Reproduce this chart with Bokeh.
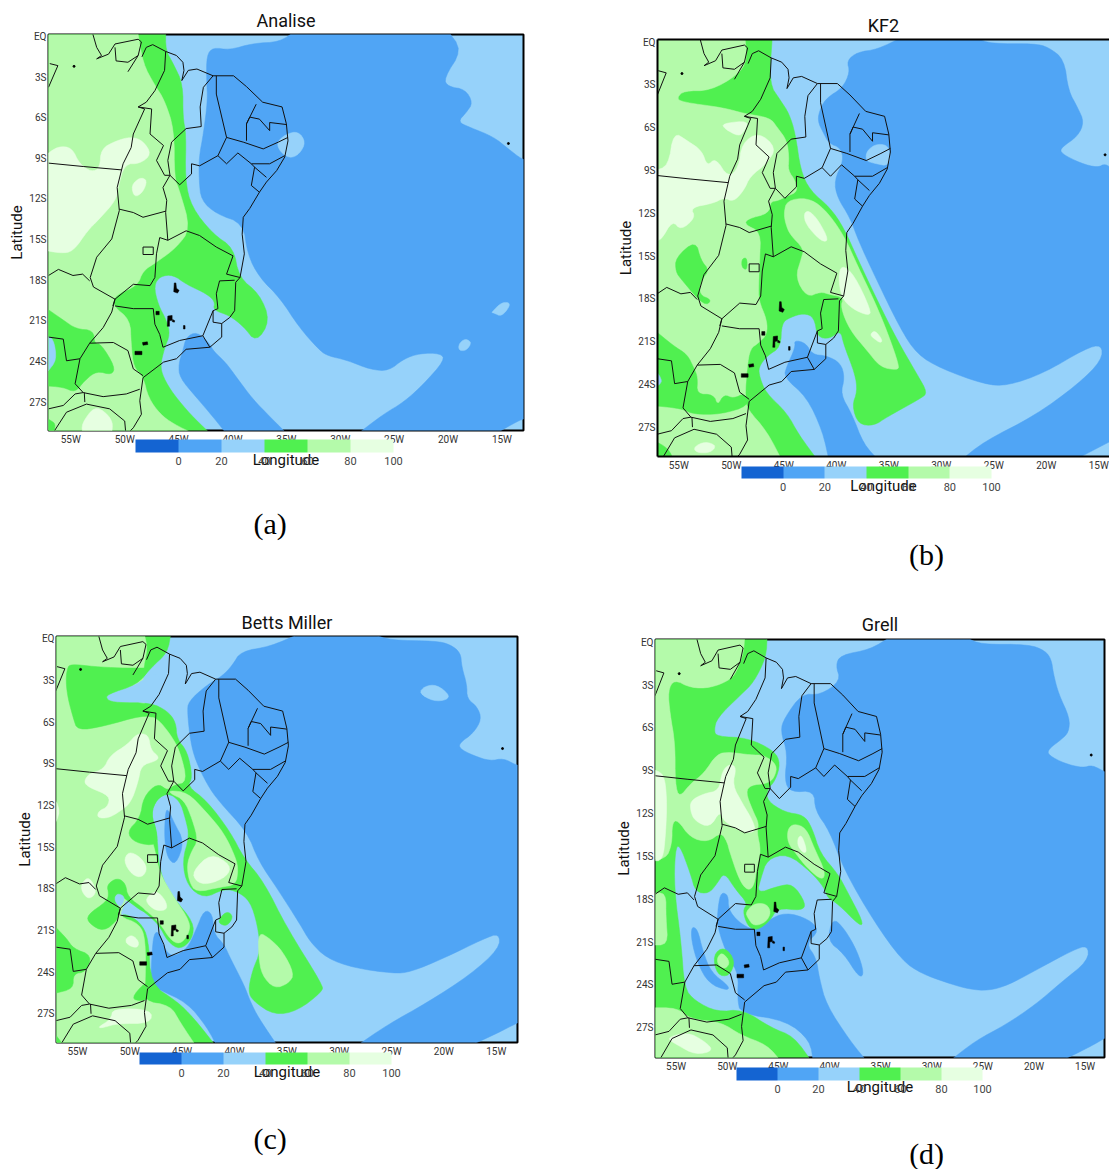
from bokeh.embed import file_html
from bokeh.resources import INLINE
from bokeh.plotting import figure
from bokeh.layouts import column, row
from bokeh.models import (ColumnDataSource, FixedTicker, LinearAxis, ColorBar,
                          LinearColorMapper, Label, Range1d)

# colour classes of relative humidity
LEVELS = [-20, 0, 20, 40, 60, 80, 100]
PALETTE = ["#1464D2", "#50A5F5", "#96D2FA", "#50F050", "#B4FAAA", "#E6FFE1"]
M, L, G, P, W = PALETTE[1], PALETTE[2], PALETTE[3], PALETTE[4], PALETTE[5]

LON_TICKS = [-55, -50, -45, -40, -35, -30, -25, -20, -15]
LON_LABELS = ["55W", "50W", "45W", "40W", "35W", "30W", "25W", "20W", "15W"]
LAT_TICKS = [0, -3, -6, -9, -12, -15, -18, -21, -24, -27]
LAT_LABELS = ["EQ", "3S", "6S", "9S", "12S", "15S", "18S", "21S", "24S", "27S"]

A_LAYERS = [
 (M, [(-34.2,0.4),(-20,0.4),(-18.7,-1),(-20.4,-3.1),(-20,-3.7),(-18.4,-3.9),(-17.7,-4.9),(-18.3,-5.6),(-19.1,-6.3),(-18,-6.7),(-15.8,-7.4),(-14.4,-8.3),(-13.1,-9.1),(-12.5,-9.1),(-12.5,-28.2),(-13.1,-28.25),(-14.2,-28.7),(-15.5,-29.3),(-28.3,-29.3),(-26,-27.9),(-24.1,-27),(-22.3,-25.7),(-20.3,-23.9),(-20.7,-23.4),(-22.6,-23.4),(-24.1,-23.8),(-25.5,-24.7),(-27.2,-24.6),(-29.4,-23.9),(-31.1,-23.6),(-31.9,-23.2),(-33.8,-21.5),(-35.6,-19.3),(-37.5,-17.8),(-38.6,-16.1),(-39,-13.8),(-41.5,-13.1),(-42.9,-12.1),(-43.1,-10.6),(-43.1,-8.9),(-42.7,-7.2),(-42.3,-4.7),(-42.4,-3.3),(-42.4,-1.4),(-41.8,-0.8),(-40.3,-1),(-38.1,-0.5),(-35.6,-0.4)]),
 (M, [(-44.3,-22.2),(-43.3,-21.8),(-42.1,-22.7),(-41.8,-23.2),(-40.6,-24.1),(-39.6,-25.2),(-38.1,-26.8),(-36.5,-28.1),(-35,-29.3),(-40.6,-29.3),(-41.8,-28.1),(-43.3,-26.7),(-44.9,-25.2),(-45,-24.2),(-44.6,-23.2)]),
 (L, [(-35,-7.2),(-33.9,-7),(-33.2,-7.8),(-33.8,-8.7),(-34.7,-9),(-35.6,-8.5),(-35.9,-7.8)]),
 (L, [(-16,-20.4),(-15,-19.6),(-14.1,-19.7),(-15,-20.7),(-15.8,-20.4)]),
 (L, [(-19,-22.7),(-18.4,-22.3),(-17.8,-22.6),(-18.3,-23.2),(-19,-23.2)]),
 (G, [(-46.2,0.4),(-46.2,-1),(-45.5,-2),(-44.6,-3.5),(-44.6,-6),(-44.3,-7.2),(-44.4,-10.6),(-43.8,-12.6),(-41.8,-14.6),(-39.9,-15.6),(-39.4,-17.8),(-37.5,-19),(-36.5,-21),(-37.8,-22.6),(-39,-21.4),(-40.3,-20.6),(-41.8,-20.2),(-41.6,-19.6),(-42.4,-19),(-44.3,-18.3),(-45.5,-17.6),(-46.7,-17.7),(-47.3,-18.4),(-46.9,-19.8),(-46.1,-21),(-45.8,-22),(-46.3,-23),(-46.7,-24.3),(-46.4,-25.2),(-45.5,-26.4),(-43.8,-28),(-42.1,-29.3),(-58,-29.4),(-58,0.4)]),
 (P, [(-48.8,0.4),(-48.3,-2),(-47.2,-3.6),(-46.3,-4.7),(-45.4,-6.9),(-45.4,-10.4),(-44.9,-11.4),(-43.9,-14.2),(-45.2,-15.6),(-47.1,-16.7),(-48.3,-17.3),(-48.8,-18.4),(-50.9,-19.1),(-51.1,-19.9),(-49.5,-20.9),(-49.4,-22.7),(-49.2,-24.4),(-48.3,-25.1),(-47.8,-26.7),(-46.7,-27.9),(-45.5,-28.6),(-43.7,-29.3),(-58,-29.4),(-58,0.4)]),
 (G, [(-57.4,-20),(-55.6,-21),(-54.5,-21.6),(-52.9,-21.7),(-52.8,-22.7),(-52.2,-22.7),(-50.9,-24.4),(-51.2,-25),(-52.6,-24.7),(-53.7,-25.4),(-54.6,-26.3),(-55.7,-25.9),(-57.4,-25.8)]),
 (L, [(-57.4,-22.1),(-56.6,-22.3),(-56.3,-23.9),(-57.1,-24.7),(-57.4,-24.7)]),
 (G, [(-57.4,-28.1),(-57,-28.3),(-56.4,-28.6),(-56.6,-29.3),(-57.4,-29.3)]),
 (W, [(-57.4,-8.8),(-56.2,-8.1),(-54.9,-8.2),(-54.2,-9.4),(-53.1,-10),(-52.3,-9.7),(-52.2,-8.3),(-50.8,-7.7),(-49.4,-7.4),(-48.3,-7.7),(-47.5,-8.7),(-48.6,-9.4),(-50,-9.4),(-50.6,-11.1),(-50.8,-12.1),(-52.5,-13.6),(-53.4,-14.3),(-54.8,-15.9),(-56,-16),(-57.4,-15.8)]),
 (W, [(-49.4,-11),(-48.6,-10.4),(-47.9,-10.6),(-48.3,-11.5),(-49.1,-11.9)]),
 (W, [(-54,-28.6),(-52.8,-27.3),(-51.7,-27.8),(-51.1,-28.5),(-51.2,-29.3),(-53.9,-29.3)]),
]

B_LAYERS = [
 (M, [(-26.5,0.25),(-25.3,-0.1),(-21.1,-0.1),(-19.8,-0.35),(-18.3,-1.2),(-17.9,-3.4),(-17,-4.6),(-16.4,-5.6),(-17,-6.6),(-18.6,-7.4),(-18.6,-7.8),(-16.7,-8.5),(-15.1,-8.8),(-14.4,-8.5),(-13.5,-9),(-12.5,-9),(-12.5,-28),(-13.9,-28),(-17.3,-29.3),(-28.1,-29.3),(-25.9,-28),(-21.1,-26.2),(-17,-24),(-14.7,-22.3),(-14.7,-21.2),(-16.3,-21.5),(-20.2,-23.2),(-23.7,-24.1),(-25.9,-24),(-30,-22.9),(-32.3,-21.9),(-33.9,-20.1),(-36.4,-16.3),(-37.9,-13.9),(-38.7,-12.3),(-39.9,-10.9),(-40.2,-9.7),(-39.3,-8.3),(-39.6,-7.4),(-40.7,-7.1),(-41.2,-6.4),(-41.8,-5.5),(-41.5,-4.6),(-40.9,-3.9),(-39.4,-3.2),(-38.7,-2.1),(-39,-1.3),(-38,-0.7),(-36.1,-0.5),(-34,0.25)]),
 (L, [(-37.1,-7.6),(-36.1,-7.1),(-34.9,-7.3),(-34.9,-8.7),(-36.4,-8.5),(-37.2,-8.3)]),
 (M, [(-43.9,-21.4),(-44,-20.9),(-42.9,-21.1),(-42.3,-21.9),(-40.9,-22),(-39.6,-22.5),(-39.2,-23.5),(-39.6,-24.7),(-38.5,-26.1),(-37.4,-28.2),(-36,-29.3),(-40.7,-29.3),(-41.3,-27.3),(-42.8,-24.9),(-45,-23.5),(-44.7,-22.7)]),
 (G, [(-46.1,0.35),(-46.4,-2.9),(-45.3,-4.1),(-44.5,-5),(-43.9,-6.4),(-43.4,-9),(-42.5,-10.4),(-40.6,-11.6),(-39.3,-13),(-37.9,-15.3),(-36.1,-18.1),(-34.2,-20.9),(-32.3,-23.3),(-31.3,-24.6),(-32,-25),(-35.2,-26.3),(-36.4,-26.9),(-37.9,-26.8),(-38.5,-25.5),(-38,-24.5),(-38.2,-23.3),(-39.3,-21.2),(-39.6,-20.2),(-40.6,-20.8),(-41.8,-20.7),(-42.1,-19.3),(-43.1,-19),(-44.4,-19.3),(-45.2,-19.7),(-45.3,-21.4),(-46.6,-22),(-47.4,-22.8),(-47.3,-23.5),(-46.7,-24.6),(-44.7,-26),(-43.6,-27.5),(-41.8,-29.3),(-58,-29.4),(-58,0.4)]),
 (P, [(-48.7,0.35),(-48.5,-1.3),(-49.4,-2.3),(-52,-3.4),(-54.5,-3.4),(-55.2,-3.9),(-54.7,-4.2),(-50.7,-4.6),(-48.8,-5),(-46.3,-5.3),(-45.6,-6),(-44.7,-6.9),(-44.5,-8.1),(-44.6,-9),(-43.9,-9.7),(-43.7,-10.5),(-44.7,-10.8),(-45.5,-11.1),(-46.3,-11.2),(-46.4,-12),(-48.5,-12.4),(-48.7,-12.8),(-47.2,-13.3),(-47.3,-15.3),(-47.4,-17),(-47.4,-18.1),(-46.6,-19.5),(-46.6,-20.5),(-47.4,-21.1),(-48.2,-21.5),(-48.5,-22.8),(-48.7,-24.9),(-48.5,-25.7),(-46.6,-27.3),(-45.2,-29.3),(-58,-29.4),(-58,0.35)]),
 (G, [(-57.3,-20.2),(-55.5,-21.3),(-54.2,-21.9),(-53.6,-22.8),(-53.2,-23.5),(-53.3,-24.7),(-51.7,-24.7),(-51.3,-25.5),(-50.7,-24.7),(-49.8,-25),(-48.7,-24.6),(-48.3,-25.5),(-51,-26.1),(-53.6,-26.1),(-54.7,-25.7),(-57.3,-25.5)]),
 (L, [(-57.2,-23),(-56.5,-23.8),(-57.2,-24.2)]),
 (G, [(-57.4,-28),(-57.2,-28),(-56,-28.5),(-55.5,-29.3),(-57.4,-29.3)]),
 (G, [(-55.3,-15.1),(-53.4,-13.9),(-52.9,-15.3),(-52.1,-16),(-52.9,-16.7),(-53.1,-17.7),(-51.8,-18.1),(-52.6,-18.5),(-54.7,-16.7),(-55.3,-16.1)]),
 (G, [(-49,-15.2),(-48.5,-15.1),(-48.5,-16),(-49,-15.8)]),
 (P, [(-45,-12),(-44.7,-11.1),(-42.8,-10.9),(-41.2,-11.6),(-39.3,-13.5),(-37.9,-15.8),(-36.4,-18.1),(-35.2,-20.2),(-34,-22.7),(-34.2,-23),(-35.8,-22.8),(-37.1,-21.6),(-38.7,-20.2),(-39.6,-18.6),(-39.3,-17.9),(-40.6,-17.7),(-41.5,-17.5),(-42.8,-17.9),(-43.9,-16.5),(-43.3,-15.1),(-43.1,-14.5),(-44.4,-13.5),(-44.8,-12.8)]),
 (W, [(-57.3,-9),(-56,-8.7),(-55.5,-6.3),(-54.2,-6.9),(-52.8,-7.6),(-52.3,-8.7),(-51.5,-8.1),(-50.3,-9.5),(-49.3,-8.8),(-49,-7.1),(-47.4,-6.3),(-45.7,-7.4),(-46.6,-8.5),(-48.2,-9.4),(-48.8,-10.4),(-49.8,-11.2),(-50.7,-10.9),(-51.7,-11.3),(-53.9,-11.6),(-53.4,-12.3),(-54.8,-13.2),(-55.6,-12.5),(-56.7,-13.9),(-57.3,-13.9)]),
 (W, [(-50.9,-5.7),(-48.3,-5.5),(-48.8,-6.3),(-49.3,-6.6),(-50.6,-6.1)]),
 (W, [(-43.1,-12),(-42.6,-11.8),(-41.7,-12.5),(-40.7,-13.9),(-41.4,-14),(-42.9,-12.8)]),
 (W, [(-39.8,-16.5),(-39.5,-15.6),(-38.3,-16.3),(-36.7,-18.8),(-36.9,-19.2),(-38.5,-18.7),(-39.5,-17.9)]),
 (W, [(-36.8,-20.5),(-36.3,-20.2),(-35.6,-20.9),(-35.8,-21.1),(-36.4,-20.8)]),
 (W, [(-53.6,-28.4),(-52.5,-28),(-51.4,-28.3),(-52,-28.8),(-53.3,-28.8)]),
]

C_LAYERS = [
 (M, [(-26.6,0.3),(-25.1,-0.1),(-20.8,-0.15),(-19.4,-0.4),(-18.4,-1),(-18.3,-2),(-17.8,-3.3),(-17.8,-4.3),(-16.8,-4.9),(-16.4,-5.8),(-17.2,-6.8),(-18.5,-7.5),(-18.5,-7.9),(-17.2,-8.4),(-15.6,-8.8),(-14.3,-8.6),(-13.1,-9.1),(-12.5,-9.1),(-12.5,-27.5),(-13.1,-27.7),(-14.9,-28.4),(-17.5,-29.3),(-28.3,-29.3),(-25.4,-27.8),(-21.6,-26.2),(-17.5,-24.2),(-14.7,-22.3),(-14.7,-21.2),(-16.2,-21.6),(-20,-23),(-23.2,-24),(-24.8,-24.1),(-28.6,-23.7),(-31.2,-23),(-32.8,-21.8),(-33.7,-20.6),(-35.9,-18),(-37.7,-16),(-38.8,-13.9),(-41.5,-11.7),(-42.6,-10.5),(-43.7,-8.8),(-44.2,-7.4),(-44.5,-5.3),(-44.4,-4.5),(-42.6,-3.3),(-41.2,-2.7),(-40.2,-1.9),(-39.4,-0.9),(-36.6,-0.55),(-34,0.3)]),
 (L, [(-22.4,-3.9),(-21.8,-3.4),(-20.7,-3.3),(-19.5,-4),(-19.7,-4.4),(-21,-4.5)]),
 (M, [(-47.7,-21.2),(-47.2,-21.1),(-46.6,-22.5),(-45.8,-22.9),(-44.5,-22.3),(-43.7,-21),(-42.9,-19.5),(-42.1,-19.8),(-42,-21.2),(-41,-22),(-40.4,-23),(-39.1,-24.9),(-38.5,-26.1),(-37.7,-27.3),(-35.9,-29.3),(-41.7,-29.3),(-42.6,-28),(-44.5,-26.2),(-47.4,-25.2),(-48,-24.9),(-47.9,-22.8)]),
 (M, [(-46.6,-12.4),(-46.3,-12.3),(-45.8,-13.2),(-44.8,-14.6),(-45.6,-16.3),(-46.4,-15.8),(-46.7,-14.4)]),
 (G, [(-46.1,0.3),(-46.4,-1),(-48,-2.1),(-49.3,-3.3),(-52.2,-4),(-52.2,-4.4),(-51.2,-4.6),(-48,-4.6),(-46.4,-5.2),(-45.6,-6),(-45.5,-7.2),(-44.5,-8.1),(-44,-10),(-44.5,-10.6),(-42.6,-11.7),(-40.4,-13.9),(-39.1,-15.8),(-37.2,-17.5),(-35,-20.8),(-31.6,-24.9),(-31.6,-25.4),(-34,-26.8),(-36.2,-27.1),(-38.2,-26.1),(-38.7,-25.4),(-38.3,-23.9),(-37.5,-22.5),(-37.8,-20.6),(-38.5,-18.9),(-39.7,-18.2),(-41,-18),(-42.9,-18.7),(-44.5,-17.8),(-45,-16),(-44.3,-14.2),(-44.7,-12.9),(-45.2,-11.7),(-46.3,-11.1),(-47.4,-11.5),(-48,-12.6),(-47.4,-13.9),(-47.2,-16.8),(-45.8,-18.7),(-43.9,-20.4),(-44,-21.6),(-45.2,-22.4),(-46.4,-21.8),(-47.2,-20.6),(-48.7,-19.6),(-50.3,-18.8),(-51.2,-18.3),(-51.5,-18.8),(-50.9,-19.5),(-51,-20),(-50.4,-19.8),(-49,-20.4),(-48.2,-21.6),(-48,-24.9),(-45.5,-26.1),(-43.9,-27.3),(-41.8,-29.3),(-58,-29.4),(-58,0.3)]),
 (P, [(-48.6,0.3),(-48.3,-0.7),(-48.8,-2.4),(-48.6,-5.5),(-47.4,-5.7),(-46.1,-6.9),(-45.2,-8.1),(-44.5,-10.3),(-45.8,-10.5),(-46.4,-10.9),(-47.4,-10.4),(-48.5,-11.7),(-48.5,-13.4),(-47.7,-14.8),(-47.2,-16.8),(-45.8,-18.6),(-44.2,-20.4),(-44.4,-21.3),(-45.2,-22),(-46.1,-21.7),(-47.1,-20.5),(-48.5,-19.5),(-50.3,-18.7),(-50.6,-19.2),(-51,-20),(-49.1,-20.5),(-48.5,-21.6),(-48.5,-24.7),(-48.7,-26.1),(-46.1,-26.4),(-45.2,-27.6),(-43.7,-29.3),(-58,-29.4),(-58,0.3)]),
 (L, [(-47.6,-2.3),(-49.3,-3.3),(-52.2,-4),(-52.2,-4.4),(-51.2,-4.6),(-48,-4.6),(-47,-4.4),(-46.9,-3.2)]),
 (G, [(-56,-2.2),(-55.7,-1.8),(-53.4,-2),(-50.9,-2.1),(-49.1,-2.1),(-48,-2.1),(-49.3,-3.3),(-52.2,-4),(-52.2,-4.4),(-51.2,-4.6),(-48,-4.6),(-47.4,-5.7),(-48.8,-5.5),(-52.5,-6.3),(-55,-6.6),(-55.4,-5.7),(-55.9,-4.3),(-56.1,-3.1)]),
 (G, [(-49,-12.9),(-48.7,-11.4),(-47.4,-10.4),(-46.4,-10.9),(-46.3,-11.1),(-47.4,-11.5),(-48,-12.6),(-47.4,-13.9),(-47.4,-14.9),(-49.5,-14.7),(-50.3,-13.9)]),
 (G, [(-52.2,-17.7),(-51.2,-17.2),(-50.4,-17.6),(-50.2,-18.6),(-48.5,-19.5),(-48.7,-19.7),(-50.3,-18.8),(-51.2,-18.3),(-51.5,-18.8),(-50.9,-19.4),(-51.1,-20.2),(-52.5,-21.1),(-53.9,-20.5),(-54.1,-19.9),(-52.2,-18.9),(-52,-18.4)]),
 (L, [(-51.5,-18.8),(-51.2,-18.3),(-50.4,-18.6),(-50.9,-19.4)]),
 (G, [(-57.3,-20.6),(-56,-21.6),(-55.4,-22.3),(-53.6,-22.8),(-54.2,-24),(-55.4,-24.1),(-55.4,-25.2),(-57,-25.5),(-57.3,-25.5)]),
 (G, [(-49.9,-25.9),(-48.5,-24.7),(-48,-25),(-48.2,-25.9),(-48.9,-26.1)]),
 (G, [(-57.3,-28.3),(-56.3,-29.3),(-57.3,-29.3)]),
 (G, [(-41.4,-20.1),(-40.7,-19.6),(-40.1,-20),(-40.7,-20.7),(-41.5,-20.5)]),
 (P, [(-46.24,-10.92),(-44.49,-11.06),(-42.74,-12.43),(-40.99,-13.99),(-39.87,-15.79),(-39.65,-16.63),(-39.87,-17.71),(-41.3,-17.88),(-43.69,-18.26),(-44.33,-17.47),(-44.55,-16.27),(-44.11,-15.31),(-43.47,-14.52),(-44.01,-13.03),(-44.81,-11.59),(-46.08,-11.16)]),
 (P, [(-37.7,-21.1),(-36.6,-21.6),(-35.4,-22.5),(-34.3,-24.1),(-34.8,-24.8),(-36.2,-25.2),(-37.4,-24.2),(-37.7,-22.8)]),
 (W, [(-52.5,-9.4),(-51.9,-8.4),(-50.2,-7.6),(-49.3,-6.8),(-48.2,-6.9),(-48,-8),(-47.2,-8.5),(-47.5,-8.8),(-48.9,-9.1),(-49.2,-10.3),(-49.9,-11.8),(-50.9,-12.4),(-52,-12.9),(-53.1,-12.9),(-53,-12.4),(-52.1,-12.1),(-51.9,-11.3),(-53.9,-10.7),(-54.4,-10.3),(-53.9,-9.7)]),
 (W, [(-50.6,-16),(-50.1,-15.3),(-49,-15.7),(-48.3,-16.5),(-48.8,-17.2),(-49.8,-17)]),
 (W, [(-48.5,-18.7),(-47.5,-18.1),(-46.6,-18.8),(-46.4,-19.5),(-47.4,-19.6),(-48.2,-19.2)]),
 (W, [(-44.01,-16.75),(-42.26,-15.43),(-40.35,-16.27),(-40.67,-17.11),(-42.58,-17.71),(-43.69,-17.47)]),
 (W, [(-50.4,-21.6),(-49.8,-21.3),(-49.1,-21.8),(-49.3,-22.3),(-50.3,-22)]),
 (W, [(-54.6,-17.6),(-53.9,-17.1),(-53.1,-18.2),(-53.9,-18.8),(-54.6,-18.2)]),
 (W, [(-53.1,-28),(-51.8,-27.4),(-51.6,-26.6),(-47.9,-26.7),(-48,-27.7),(-51.2,-27.7),(-52.5,-28)]),
 (W, [(-57.3,-11.3),(-56.6,-12.4),(-57.3,-13.6)]),
]

D_LAYERS = [
 (M, [(-26.4,0.25),(-25.2,-0.15),(-20.5,-0.15),(-18.9,-0.6),(-18.3,-1.2),(-18.1,-2.2),(-17.6,-3.6),(-16.5,-5.3),(-16.6,-6.3),(-17.3,-6.8),(-18.6,-7.5),(-18.6,-7.9),(-17,-8.5),(-15.2,-8.8),(-14.3,-8.6),(-13,-9.1),(-12.5,-9.1),(-12.5,-27.6),(-13,-27.7),(-14.7,-28.4),(-17.3,-29.3),(-28.2,-29.3),(-25.7,-27.9),(-22.8,-26.8),(-19.9,-25.4),(-17.3,-23.8),(-14.7,-22.3),(-14.7,-21.2),(-16.3,-21.6),(-19.9,-23),(-22.5,-24),(-24.4,-24.4),(-26.4,-24.3),(-28.7,-23.8),(-31,-23.2),(-32.9,-22.3),(-35.7,-19.5),(-38.6,-15.9),(-40,-13.2),(-41.4,-11.8),(-41.5,-10.4),(-43.8,-10.5),(-44.4,-9.7),(-44.1,-7.8),(-44.8,-6.2),(-44.4,-5.3),(-42.7,-3.6),(-40.9,-3.7),(-38.9,-2.7),(-39.4,-1.6),(-38.9,-0.9),(-36,-0.5),(-34.2,0.3)]),
 (M, [(-50.9,-18.5),(-50.6,-17.5),(-49.9,-17.7),(-49.9,-18.7),(-48.9,-19.6),(-47.4,-20.2),(-46.1,-19.5),(-44.3,-18.9),(-42,-19.4),(-41,-20.2),(-42.3,-21.1),(-41.3,-22.1),(-41,-23.5),(-40.3,-25.4),(-38,-27.9),(-36.4,-29.3),(-41.6,-29.3),(-41.9,-27.9),(-44.2,-26.5),(-48.7,-26),(-49,-25),(-48.9,-23.2),(-49.9,-22.1),(-51,-19.9)]),
 (M, [(-53.5,-19.9),(-52.9,-20.1),(-52.4,-21.6),(-51.6,-23.1),(-49.8,-24.1),(-50,-24.4),(-51.8,-23.9),(-52.9,-22.5),(-53.5,-20.9)]),
 (M, [(-39.7,-19.3),(-38.6,-20),(-37.3,-21.6),(-36.6,-23.2),(-37.1,-23.5),(-38.6,-21.8),(-40.2,-20.9)]),
 (G, [(-46.1,0.35),(-46.2,-1.05),(-47.4,-2.8),(-48.7,-3.7),(-51,-5.3),(-51.3,-6.2),(-51,-6.6),(-48,-6.7),(-45.4,-7.6),(-44.8,-8.5),(-45.3,-9.7),(-46.1,-10.3),(-46.1,-11.1),(-44.4,-11.9),(-42.5,-12.1),(-41.7,-13),(-40.9,-14.8),(-39.2,-16.2),(-38.3,-17.4),(-36.7,-19.6),(-37,-19.9),(-39.2,-18.3),(-40.2,-17.9),(-40.5,-17.2),(-41.8,-16.1),(-44.1,-14.8),(-46.1,-15.2),(-46.7,-16.5),(-47.1,-17.6),(-45.1,-17.1),(-43.6,-16.9),(-42.3,-18.3),(-42.7,-18.8),(-45.1,-18.6),(-45.8,-19.5),(-47.1,-20.2),(-48,-19.9),(-48.5,-18.8),(-48,-18.3),(-49.2,-17.3),(-50.3,-16.1),(-51,-16.9),(-51.8,-17.6),(-53.1,-17.5),(-53.6,-16.2),(-54.7,-14.1),(-55.1,-14.6),(-55.2,-17.2),(-54.5,-21.1),(-54.2,-24.2),(-53.2,-25.1),(-51,-25.9),(-48.5,-25.7),(-45.7,-27),(-43.5,-27.6),(-41.8,-29.3),(-58,-29.4),(-58,0.35)]),
 (P, [(-48.3,0.35),(-48.4,-0.7),(-49,-1.9),(-49.6,-2.6),(-51.6,-3.2),(-53.6,-3.2),(-55.2,-2.6),(-55.8,-3.4),(-55.6,-5),(-55.1,-7.1),(-55.1,-9.9),(-54.7,-10.9),(-53.6,-9.9),(-52.3,-9.2),(-51,-7.8),(-49.7,-7.7),(-47.7,-7.9),(-46.4,-7.9),(-45.1,-8.6),(-45.4,-9.5),(-46.1,-9.9),(-47.7,-10),(-48.2,-10.5),(-47.5,-11.8),(-46.9,-12.7),(-47.1,-13.3),(-46.7,-14.6),(-47.1,-15.8),(-47.4,-17.1),(-48,-17.4),(-48.8,-16.7),(-49.8,-14.6),(-50,-14),(-50.6,-13.3),(-51.9,-14),(-53.6,-13.7),(-54.9,-12.4),(-55.4,-12.7),(-55.4,-14.1),(-56,-15.2),(-58,-15.2),(-58,0.35)]),
 (P, [(-44.1,-13.1),(-43.5,-12.7),(-42.3,-13),(-41.5,-14.4),(-40.4,-16.1),(-40.7,-16.7),(-42.2,-15.8),(-43.3,-14.8),(-44.1,-14)]),
 (P, [(-57.4,-17.6),(-56,-17.5),(-56,-19.3),(-55.8,-21.2),(-57.4,-21.2)]),
 (P, [(-48.2,-18.9),(-47.4,-18.3),(-46.2,-18.3),(-45.7,-18.9),(-46.2,-19.6),(-47.4,-19.9),(-48,-19.3)]),
 (G, [(-51.4,-21.9),(-50.3,-21.3),(-49.2,-22.3),(-49.8,-23.4),(-51,-23.3)]),
 (P, [(-51,-22.1),(-50.5,-21.7),(-49.7,-22.4),(-50.2,-22.9),(-50.9,-22.6)]),
 (P, [(-57.4,-25.6),(-54.9,-25.6),(-53.6,-26.4),(-50.6,-26.6),(-48.7,-27.5),(-46.1,-28.2),(-44.8,-29.3),(-57.4,-29.3)]),
 (W, [(-57.3,-8.9),(-56.2,-9.2),(-55.9,-10.9),(-56,-13.2),(-56.3,-15.3),(-57.3,-15.3)]),
 (W, [(-53.6,-11.1),(-52.3,-10.6),(-50.8,-10.4),(-50.5,-9),(-49.7,-8.5),(-49.1,-8.8),(-49.5,-10),(-48.5,-11.3),(-47.5,-12.5),(-47.2,-13.3),(-48.4,-13.3),(-50.3,-12.6),(-50.7,-11.8),(-51.7,-13),(-53.2,-12.5),(-53.6,-11.8)]),
 (W, [(-43.1,-13.7),(-42.7,-13.5),(-42.2,-14.6),(-42.5,-14.8),(-43.1,-14.3)]),
 (W, [(-56,-27.7),(-53.9,-27.3),(-52.3,-27.9),(-51.3,-28.6),(-53.1,-28.9),(-54.9,-28.2)]),
]

COAST = [(-48.4,-1.5),(-48,-0.8),(-47.4,-0.6),(-46.2,-1.1),(-45.2,-1.4),(-44.6,-1.9),(-44.5,-2.5),(-44.7,-3.25),(-44.1,-2.5),(-43.3,-2.4),(-41.8,-2.9),(-39.9,-2.9),(-38.7,-3.7),(-37.2,-4.85),(-35.4,-5.2),(-35,-6.45),(-34.85,-7.7),(-35.15,-8.9),(-35.9,-9.9),(-36.85,-10.75),(-37.5,-11.5),(-38.4,-12.7),(-39,-13.35),(-39.1,-14.6),(-38.9,-16.05),(-39.3,-17.8),(-39.7,-18.15),(-39.8,-20.25),(-40.25,-20.75),(-41,-21.2),(-41,-22.2),(-42.1,-22.95),(-44.3,-23.1),(-45.2,-23.8),(-46.4,-24.05),(-48.3,-25.2),(-48.6,-26.9),(-48.45,-27.9),(-49.2,-28.9),(-49.7,-29.3)]
BORDERS = [
 COAST,
 [(-53,0.3),(-52.6,-0.8),(-52.15,-1.4),(-52.6,-1.65),(-51.5,-1.3),(-50.9,-0.55),(-48.75,-0.2),(-48.45,-0.4),(-48.75,-1.4),(-49.7,-2.6)],
 [(-50.9,-0.8),(-50.8,-1.8),(-49.7,-1.9),(-48.75,-1.4)],
 [(-57.07,-3.75),(-56.2,-2.15),(-56.95,-2)],
 [(-46.2,-1.1),(-46.3,-2.5),(-47.2,-4),(-48,-4.85),(-48.75,-5.2),(-48.15,-5.35),(-49.2,-7.2),(-49.4,-8.2),(-50.15,-9.4),(-50.7,-11.15),(-50.5,-12.85),(-51.2,-14.95),(-52.6,-16.3),(-53.2,-17.8),(-52.9,-18.5),(-50.9,-19.4)],
 [(-57.07,-9.35),(-53.85,-9.6),(-50.3,-9.85)],
 [(-48.75,-5.2),(-47.5,-5.35),(-47.65,-7.2),(-46.4,-8.05),(-47.05,-9.15),(-46.3,-10.25),(-45.8,-10.25)],
 [(-41.8,-2.9),(-42.7,-3.75),(-43,-5.2),(-42.9,-6.65),(-44.3,-6.8),(-45.65,-7.8),(-46,-9.15),(-45.8,-10.25),(-44.9,-10.95),(-43.8,-10.15),(-43.8,-9.4),(-43.05,-9.55),(-41.35,-8.8),(-40.55,-7.45),(-41.5,-4.25),(-41.5,-2.9)],
 [(-41.35,-8.8),(-40.55,-9.4),(-39.5,-8.6),(-38.25,-9.4),(-36.55,-9.4),(-35.15,-8.8)],
 [(-40.55,-7.45),(-39,-7.8),(-37.15,-8.3),(-35.75,-7.8),(-34.85,-7.45)],
 [(-38.7,-7.7),(-38.7,-6.45),(-37.8,-5)],
 [(-38.7,-6.45),(-38.4,-5.95),(-37.5,-6.1),(-36.55,-6.95),(-36.55,-6.35),(-35,-6.5)],
 [(-38.25,-9.4),(-37.95,-9.65),(-38.25,-11),(-37.5,-11.5)],
 [(-37.95,-9.65),(-36.85,-10.4)],
 [(-45.8,-10.25),(-46.45,-11.15),(-46.1,-12.1),(-46.2,-13),(-46,-15.05),(-44.3,-14.35),(-43.05,-14.7),(-41.5,-15.55),(-39.95,-16.2),(-40.55,-17.55),(-39.3,-17.8)],
 [(-50.5,-12.75),(-49.2,-13),(-48.3,-13.35),(-46.2,-12.9)],
 [(-46,-15.05),(-46.75,-14.85),(-47.05,-16.05),(-47.2,-17.8),(-47.65,-18.4),(-49.2,-18.3),(-50.9,-19.4),(-51.1,-19.9)],
 [(-48.3,-15.55),(-47.35,-15.55),(-47.35,-16.1),(-48.3,-16.1),(-48.3,-15.55)],
 [(-57.07,-17.65),(-56.15,-17.2),(-54.8,-17.65),(-53.9,-17.55),(-53.25,-18.05)],
 [(-50.9,-19.4),(-51.2,-20.35),(-52,-21.5),(-53.25,-22.65),(-54.15,-23.8),(-54.6,-25.65),(-53.85,-26.3)],
 [(-57.07,-22.2),(-55.7,-22.35),(-55.4,-23.95),(-54.15,-23.8)],
 [(-50.9,-19.9),(-49.2,-20.1),(-47.35,-20.1),(-47.2,-21.25),(-46.75,-22),(-46.45,-22.95),(-44.9,-22.45),(-42.75,-22.1),(-41.8,-20.25),(-41.35,-20.1),(-41.5,-19),(-41.2,-18.05),(-39.8,-18)],
 [(-41.8,-20.25),(-41.8,-21.1),(-41,-21.2)],
 [(-42.75,-22.1),(-42.1,-22.95)],
 [(-53.25,-22.65),(-51.05,-22.6),(-49.7,-23.2),(-49.2,-24.55),(-48.3,-25.05)],
 [(-53.85,-26.3),(-52,-26.6),(-49.85,-26.4),(-48.6,-26.05)],
 [(-53.75,-26.3),(-53.7,-27)],
 [(-56.5,-29.1),(-55.4,-27.75),(-53.55,-27.15),(-51.4,-27.5),(-50,-28.4),(-49.9,-29.3)],
 [(-57.07,-27.5),(-55.7,-27.25),(-54.6,-26.4),(-53.85,-26.3)],
]
LAKES = [
 [(-45.4,-18.2),(-45.25,-18.2),(-45.2,-18.6),(-44.95,-18.75),(-45.1,-18.95),(-45.45,-18.85)],
 [(-46.0,-20.65),(-45.6,-20.6),(-45.6,-20.95),(-45.85,-21.0),(-45.85,-21.4),(-46.05,-21.4)],
 [(-45.55,-20.9),(-45.35,-21.0),(-45.4,-21.1),(-45.6,-21.05)],
 [(-48.35,-22.6),(-47.9,-22.55),(-47.85,-22.75),(-48.3,-22.8)],
 [(-49.05,-23.25),(-48.4,-23.25),(-48.4,-23.5),(-49.05,-23.5)],
 [(-44.55,-21.35),(-44.4,-21.35),(-44.4,-21.6),(-44.55,-21.6)],
 [(-47.1,-20.3),(-46.8,-20.3),(-46.8,-20.55),(-47.1,-20.55)],
]
ISLANDS_LON = [-14.4, -54.7]
ISLANDS_LAT = [-7.9, -2.2]

TITLES = ["Analise", "KF2", "Betts Miller", "Grell"]
TITLE_STANDOFF = [7, 8, 7, 9]
TAGS = ["(a)", "(b)", "(c)", "(d)"]
TAG_LON = [-36.5, -31.4, -36.6, -30.5]
TAG_LAT = [-36.0, -35.9, -36.0, -35.8]
X_RANGES = [(-57.07, -13.0), (-57.03, -13.98), (-57.0, -12.97), (-57.02, -13.1)]
Y_RANGES = [(-29.1, 0.15), (-29.06, 0.19), (-29.07, 0.17), (-29.08, 0.19)]
FRAMES = [(475, 396), (452, 417), (461, 406), (449, 418)]
BORDERS_PX = [(48, 67, 34, 142), (67, 0, 39, 116), (56, 73, 64, 127), (65, 5, 67, 112)]
BAR_X = [87, 84, 83, 81]
BAR_Y = [-37, -37, -37, -38]
BAR_W = [258, 250, 252, 246]
BAR_H = [13, 12, 12, 13]
ALL_LAYERS = [A_LAYERS, B_LAYERS, C_LAYERS, D_LAYERS]

THIN = "Roboto"


def smooth(pts, xr, yr, rounds=2):
    """Round the read contour's corners; vertices off the frame stay put."""
    for _ in range(rounds):
        out = []
        n = len(pts)
        for i in range(n):
            p0, p1, p2 = pts[i - 1], pts[i], pts[(i + 1) % n]
            inside = xr[0] < p1[0] < xr[1] and yr[0] < p1[1] < yr[1]
            if not inside:
                out.append(p1)
                continue
            out.append((0.75 * p1[0] + 0.25 * p0[0], 0.75 * p1[1] + 0.25 * p0[1]))
            out.append((0.75 * p1[0] + 0.25 * p2[0], 0.75 * p1[1] + 0.25 * p2[1]))
        pts = out
    return pts


def panel(i):
    xr, yr = X_RANGES[i], Y_RANGES[i]
    fw, fh = FRAMES[i]
    bl, br, bt, bb = BORDERS_PX[i]
    p = figure(frame_width=fw, frame_height=fh, min_border_left=bl, min_border_right=br,
               min_border_top=bt, min_border_bottom=bb, frame_align=False,
               x_range=Range1d(*xr), y_range=Range1d(*yr), output_backend="svg",
               toolbar_location=None, title=TITLES[i], background_fill_color=L,
               outline_line_color="black", outline_line_width=2)
    p.title.align = "center"
    p.title.text_font = THIN
    p.title.text_font_style = "normal"
    p.title.text_font_size = "18px"
    p.title.text_color = "#111111"
    p.title.standoff = TITLE_STANDOFF[i]
    p.grid.visible = False

    xs, ys, cs = [], [], []
    for col, pts in ALL_LAYERS[i]:
        sm = smooth(pts, xr, yr)
        xs.append([q[0] for q in sm])
        ys.append([q[1] for q in sm])
        cs.append(col)
    p.patches("xs", "ys", fill_color="c", line_color="c", line_width=0.5,
              source=ColumnDataSource(dict(xs=xs, ys=ys, c=cs)))
    p.multi_line([[q[0] for q in b] for b in BORDERS], [[q[1] for q in b] for b in BORDERS],
                 line_color="#111111", line_width=1)
    p.patches([[q[0] for q in b] for b in LAKES], [[q[1] for q in b] for b in LAKES],
              fill_color="black", line_color="black", line_width=0.5)
    p.scatter(ISLANDS_LON, ISLANDS_LAT, size=2, color="black")

    p.xaxis.ticker = FixedTicker(ticks=LON_TICKS)
    p.xaxis.major_label_overrides = dict(zip(LON_TICKS, LON_LABELS))
    p.yaxis.ticker = FixedTicker(ticks=LAT_TICKS)
    p.yaxis.major_label_overrides = dict(zip(LAT_TICKS, LAT_LABELS))
    for ax in (p.xaxis[0], p.yaxis[0]):
        ax.axis_line_color = None
        ax.major_tick_line_color = None
        ax.minor_tick_line_color = None
        ax.major_tick_in = 0
        ax.major_tick_out = 0
        ax.major_label_text_font = THIN
        ax.major_label_text_font_size = "10px"
        ax.major_label_text_color = "#333333"
        ax.axis_label_text_font = THIN
        ax.axis_label_text_font_style = "normal"
        ax.axis_label_text_font_size = "15px"
        ax.axis_label_text_color = "#111111"
    p.xaxis.major_label_standoff = 3
    p.yaxis.major_label_standoff = 2
    p.xaxis.axis_label = "Longitude"
    p.yaxis.axis_label = "Latitude"
    p.xaxis.axis_label_standoff = 3
    p.yaxis.axis_label_standoff = 0

    if i == 1:  # the right edge of this panel runs off the page: no line there
        p.outline_line_color = None
        p.yaxis.axis_line_color = "black"
        p.yaxis.axis_line_width = 2
        p.xaxis.axis_line_color = "black"
        p.xaxis.axis_line_width = 2
        top = LinearAxis(ticker=FixedTicker(ticks=[]), axis_line_color="black", axis_line_width=2,
                         major_label_text_font_size="0px", major_tick_line_color=None,
                         minor_tick_line_color=None)
        p.add_layout(top, "above")

    cb = ColorBar(color_mapper=LinearColorMapper(palette=PALETTE, low=LEVELS[0], high=LEVELS[-1]),
                  ticker=FixedTicker(ticks=LEVELS[1:]), orientation="horizontal",
                  width=BAR_W[i], height=BAR_H[i], location=(BAR_X[i], BAR_Y[i]),
                  padding=0, margin=0, background_fill_alpha=0, bar_line_color=None,
                  major_tick_line_color=None, label_standoff=4,
                  major_label_text_font="Roboto", major_label_text_font_size="11px",
                  major_label_text_color="#444444")
    p.add_layout(cb)

    p.add_layout(Label(x=TAG_LON[i], y=TAG_LAT[i], text=TAGS[i], text_align="center",
                       text_baseline="middle", text_font="Liberation Serif",
                       text_font_size="30px", text_color="black"), "below")
    return p


figs = [panel(i) for i in range(4)]
page = column(row(figs[0], figs[1]), row(figs[2], figs[3]))
open("out.html", "w").write(file_html(page, INLINE))
